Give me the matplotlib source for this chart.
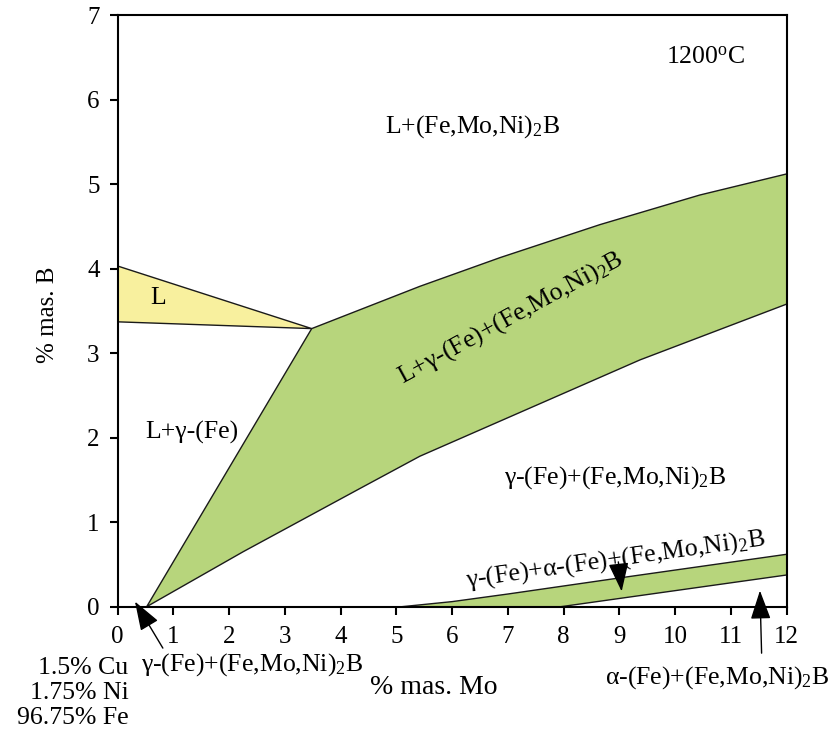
import numpy as np
import matplotlib
matplotlib.use("Agg")
import matplotlib.pyplot as plt

plt.rcParams['font.family'] = ['Liberation Serif', 'DejaVu Serif']
plt.rcParams['mathtext.fontset'] = 'custom'
plt.rcParams['mathtext.rm'] = 'Liberation Serif'
plt.rcParams['mathtext.it'] = 'Liberation Serif:italic'

# ---- phase boundaries (% Mo, % B)
liq_x = [0.0, 3.48, 0.0]
liq_y = [4.03, 3.29, 3.37]

main_up_x = [0.52, 3.48, 5.42, 6.86, 8.65, 10.44, 12.0]
main_up_y = [0.0, 3.29, 3.79, 4.13, 4.52, 4.87, 5.12]
main_lo_x = [0.52, 2.25, 4.35, 5.42, 9.37, 12.0]
main_lo_y = [0.0, 0.65, 1.40, 1.78, 2.92, 3.58]

band_up_x = [5.1, 6.0, 7.0, 9.0, 12.0]
band_up_y = [0.0, 0.06, 0.15, 0.34, 0.62]
band_lo_x = [7.95, 12.0]
band_lo_y = [0.0, 0.375]

xticks = list(range(0, 13))
yticks = list(range(0, 8))

GREEN = '#b7d57c'
YELLOW = '#f8f09e'
SUB2 = r'$_\mathregular{2}$'

fig = plt.figure(figsize=(8.33, 7.32), dpi=100)
ax = fig.add_axes([0.1413, 0.1712, 0.8031, 0.8083])

ax.fill(liq_x, liq_y, facecolor=YELLOW, edgecolor='#1a1a1a', lw=1.0)
ax.fill(main_up_x + main_lo_x[::-1], main_up_y + main_lo_y[::-1],
        facecolor=GREEN, edgecolor='#1a1a1a', lw=1.0)
ax.fill(band_up_x + band_lo_x[::-1], band_up_y + band_lo_y[::-1],
        facecolor=GREEN, edgecolor='#1a1a1a', lw=1.0)

ax.set_xlim(0, 12)
ax.set_ylim(0, 7)
ax.set_xticks(xticks)
ax.set_yticks(yticks)
ax.tick_params(direction='out', length=6, width=1.5, labelsize=18,
               top=False, right=False)
ax.tick_params(axis='x', pad=8)
ax.tick_params(axis='y', pad=7)
for s in ax.spines.values():
    s.set_linewidth(1.5)
    s.set_zorder(5)

ax.set_xlabel('% mas. Mo', fontsize=20)
ax.xaxis.set_label_coords(0.473, -0.115)
ax.set_ylabel('% mas. B', fontsize=18)
ax.yaxis.set_label_coords(-0.088, 0.493)

fs = 18.5
ax.text(10.55, 6.5, r'1200$^\mathregular{o}$C', fontsize=fs, ha='center', va='center')
ax.text(6.37, 5.68, 'L+(Fe,Mo,Ni)' + SUB2 + 'B', fontsize=fs, ha='center', va='center')
ax.text(0.72, 3.65, 'L', fontsize=fs, ha='center', va='center')
ax.text(0.49, 2.06, 'L+γ-(Fe)', fontsize=fs, ha='left', va='center')
ax.text(7.04, 3.42, 'L+γ-(Fe)+(Fe,Mo,Ni)' + SUB2 + 'B', fontsize=fs,
        ha='center', va='center', rotation=28.5, rotation_mode='anchor')
ax.text(8.92, 1.53, 'γ-(Fe)+(Fe,Mo,Ni)' + SUB2 + 'B', fontsize=fs, ha='center', va='center')
ax.text(8.93, 0.56, 'γ-(Fe)+α-(Fe)+(Fe,Mo,Ni)' + SUB2 + 'B', fontsize=fs,
        ha='center', va='center', rotation=8, rotation_mode='anchor')

# labels below the axis
ax.text(2.41, -0.68, 'γ-(Fe)+(Fe,Mo,Ni)' + SUB2 + 'B', fontsize=fs,
        ha='center', va='center', clip_on=False)
ax.text(10.75, -0.84, 'α-(Fe)+(Fe,Mo,Ni)' + SUB2 + 'B', fontsize=fs,
        ha='center', va='center', clip_on=False)

arrow = dict(arrowstyle='-|>,head_length=1.0,head_width=0.35', color='k', lw=1.0,
             shrinkA=0, shrinkB=0, mutation_scale=18)
ax.annotate('', xy=(0.31, 0.06), xytext=(0.81, -0.49), arrowprops=arrow,
            annotation_clip=False)
ax.annotate('', xy=(9.04, 0.18), xytext=(8.98, 0.53), arrowprops=arrow,
            annotation_clip=False)
ax.annotate('', xy=(11.52, 0.19), xytext=(11.55, -0.55), arrowprops=arrow,
            annotation_clip=False)

comp = ['1.5% Cu', '1.75% Ni', '96.75% Fe']
for i, c in enumerate(comp):
    fig.text(0.154, 0.088 - i * 0.0345, c, fontsize=fs, ha='right', va='center')

fig.savefig('out.png', dpi=100)
